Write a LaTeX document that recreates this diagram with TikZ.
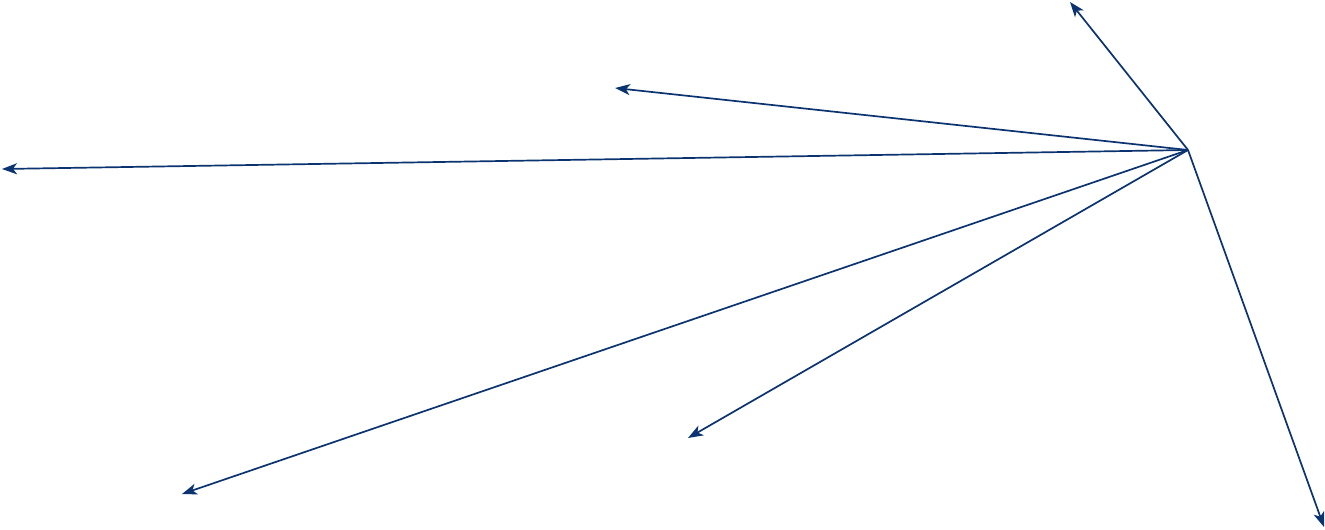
\documentclass[tikz,border=0pt]{standalone}
\usetikzlibrary{arrows.meta}
\definecolor{ln}{HTML}{0A3370}
\begin{document}
\begin{tikzpicture}[x=0.75pt,y=-0.75pt,
  conn/.style={draw=ln,line width=1.7pt*0.75,-{Stealth[length=15pt*0.75,width=11pt*0.75,inset=4pt*0.75]}}]
\useasboundingbox (0,0) rectangle (1325,529);
\coordinate (c) at (1188,150);
\coordinate (t1) at (1070,2);
\coordinate (t2) at (615,88);
\coordinate (t3) at (2,169);
\coordinate (t4) at (182,494);
\coordinate (t5) at (688,438);
\coordinate (t6) at (1324,527);
\foreach \t in {t1,t2,t3,t4,t5,t6} \draw[conn] (c) -- (\t);
\end{tikzpicture}
\end{document}
